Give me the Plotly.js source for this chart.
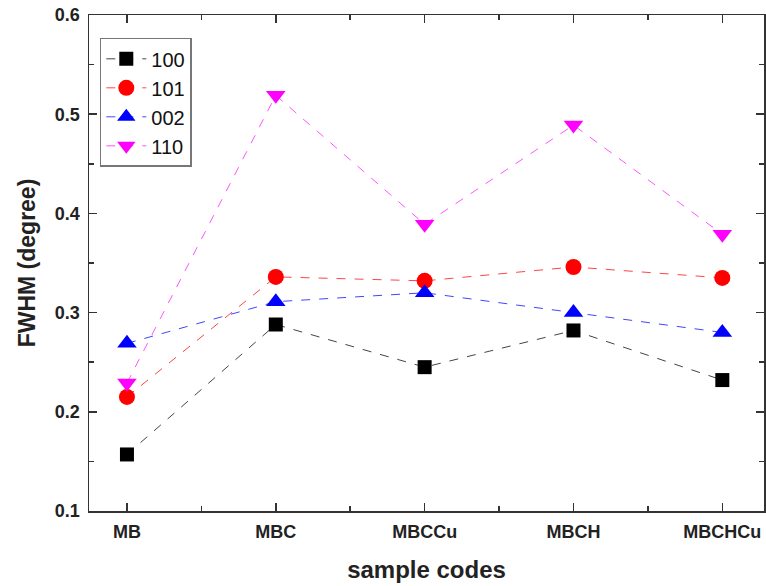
<!DOCTYPE html>
<html>
<head>
<meta charset="utf-8">
<script src="https://cdn.plot.ly/plotly-3.0.1.min.js"></script>
<style>html,body{margin:0;padding:0;background:#fff;}#chart{width:766px;height:586px;}</style>
</head>
<body>
<div id="chart"></div>
<script>
const categories = ["MB", "MBC", "MBCCu", "MBCH", "MBCHCu"];
const seriesNames = ["100", "101", "002", "110"];
const s100 = [0.157, 0.288, 0.245, 0.282, 0.232];
const s101 = [0.215, 0.336, 0.332, 0.346, 0.335];
const s002 = [0.269, 0.311, 0.320, 0.300, 0.280];
const s110 = [0.229, 0.519, 0.389, 0.489, 0.379];
const yTicks = [0.1, 0.2, 0.3, 0.4, 0.5, 0.6];

const xIdx = categories.map((c, i) => i);
const styles = [
  {color: "#000000", line: "#444444", symbol: "square", size: 14},
  {color: "#ff0000", line: "#ff4444", symbol: "circle", size: 16},
  {color: "#0000ff", line: "#4444ff", symbol: "triangle-up", size: 17},
  {color: "#ff00ff", line: "#ff55ff", symbol: "triangle-down", size: 17}
];
const allSeries = [s100, s101, s002, s110];
const traces = allSeries.map((ys, k) => ({
  type: "scatter",
  mode: "lines+markers",
  name: seriesNames[k],
  x: xIdx,
  y: ys,
  line: {color: styles[k].line, width: 1, dash: "dash"},
  marker: {color: styles[k].color, symbol: styles[k].symbol, size: styles[k].size}
}));

const font = "Arial, 'Liberation Sans', sans-serif";
const layout = {
  width: 766, height: 586,
  margin: {l: 89, r: 2, t: 15, b: 75},
  paper_bgcolor: "#fff", plot_bgcolor: "#fff",
  showlegend: true,
  legend: {
    x: 0.016, y: 0.954, xanchor: "left", yanchor: "top",
    bgcolor: "#fff", bordercolor: "#777", borderwidth: 1.5,
    font: {family: font, size: 20, color: "#111"},
    tracegroupgap: 0, itemwidth: 40
  },
  xaxis: {
    range: [-0.255, 4.28],
    tickmode: "array", tickvals: xIdx, ticktext: categories,
    ticks: "inside", ticklen: 8, tickwidth: 1.5, tickcolor: "#333",
    showline: true, linecolor: "#333", linewidth: 1.5, mirror: "ticks",
    showgrid: false, zeroline: false,
    minor: {dtick: 0.5, tick0: 0, ticks: "inside", ticklen: 5, tickwidth: 1.5, tickcolor: "#333", showgrid: false},
    tickfont: {family: font, size: 18, color: "#222", weight: "bold"},
    ticklabelstandoff: 4,
    title: {text: "<b>sample codes</b>", font: {family: font, size: 24, color: "#222"}, standoff: 20}
  },
  yaxis: {
    range: [0.1, 0.6],
    tickmode: "array", tickvals: yTicks, ticktext: yTicks.map(v => v.toFixed(1)),
    ticks: "inside", ticklen: 8, tickwidth: 1.5, tickcolor: "#333",
    showline: true, linecolor: "#333", linewidth: 1.5, mirror: "ticks",
    showgrid: false, zeroline: false,
    minor: {dtick: 0.05, tick0: 0.1, ticks: "inside", ticklen: 5, tickwidth: 1.5, tickcolor: "#333", showgrid: false},
    tickfont: {family: font, size: 18, color: "#222", weight: "bold"},
    ticklabelstandoff: 4,
    title: {text: "<b>FWHM (degree)</b>", font: {family: font, size: 23, color: "#222"}, standoff: 13}
  }
};
Plotly.newPlot("chart", traces, layout, {displayModeBar: false, staticPlot: true});
</script>
</body>
</html>
